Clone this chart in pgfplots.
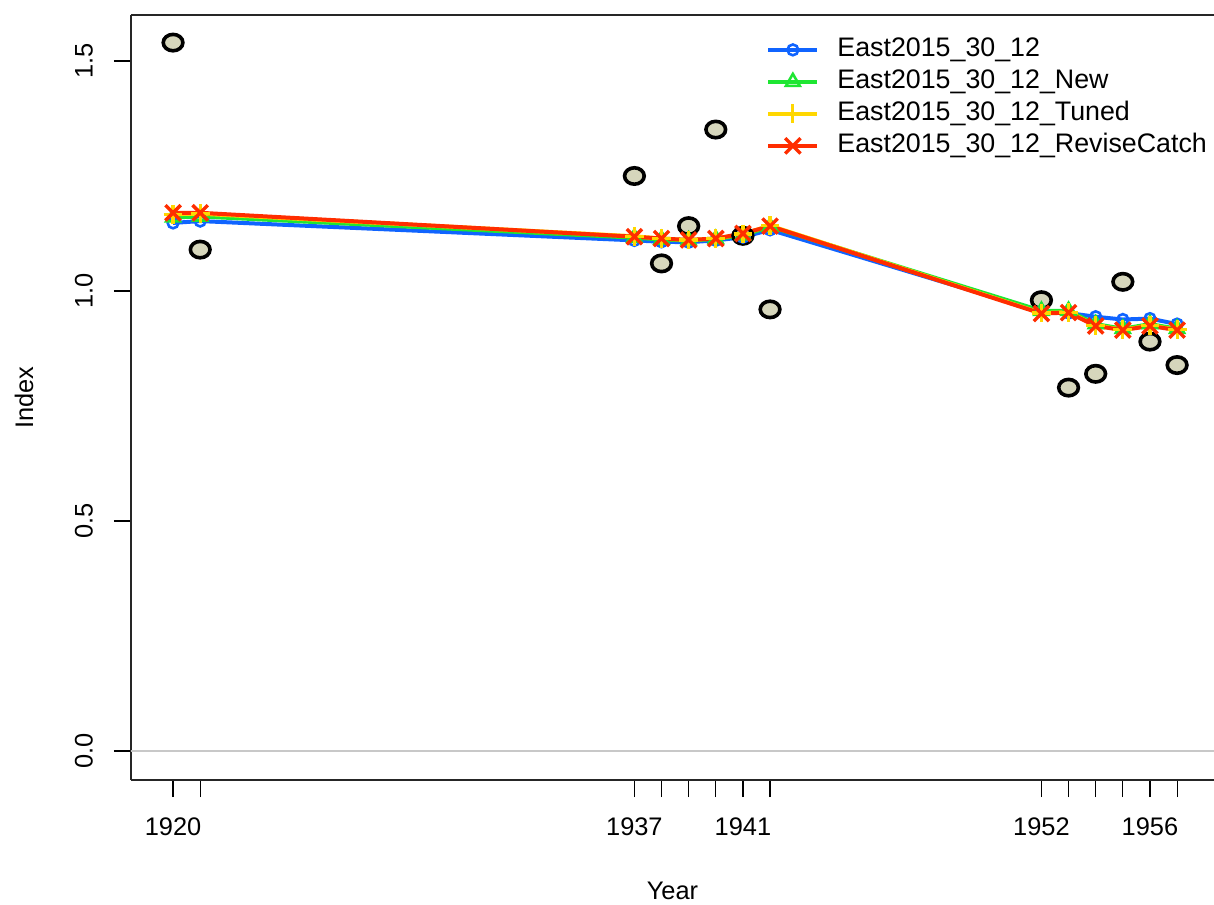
\documentclass[border=0pt]{standalone}
\usepackage{fontspec}
\setmainfont{Liberation Sans}
\usepackage{pgfplots}
\pgfplotsset{compat=1.18}
\usepackage{pgfplotstable}
\definecolor{cblue}{RGB}{16,100,255}
\definecolor{cgreen}{RGB}{30,230,50}
\definecolor{cyellow}{RGB}{255,215,0}
\definecolor{cred}{RGB}{255,45,0}
\definecolor{cobs}{RGB}{214,214,188}
\definecolor{zgray}{RGB}{200,200,200}

\pgfplotstableread{
year obs
1920 1.540
1921 1.090
1937 1.250
1938 1.060
1939 1.141
1940 1.351
1941 1.120
1942 0.960
1952 0.980
1953 0.790
1954 0.820
1955 1.020
1956 0.890
1957 0.839
}\obsdata

\pgfplotstableread{
year blue green yellow red
1920 1.148 1.160 1.167 1.170
1921 1.152 1.162 1.168 1.170
1937 1.110 1.116 1.119 1.118
1938 1.107 1.112 1.114 1.114
1939 1.106 1.110 1.111 1.111
1940 1.110 1.113 1.114 1.114
1941 1.117 1.121 1.124 1.125
1942 1.133 1.140 1.142 1.141
1952 0.955 0.957 0.952 0.951
1953 0.952 0.957 0.954 0.953
1954 0.944 0.928 0.925 0.924
1955 0.938 0.918 0.916 0.915
1956 0.940 0.928 0.925 0.924
1957 0.928 0.918 0.916 0.915
}\fitdata

\begin{document}
\begin{tikzpicture}
\begin{axis}[
  name=ax,
  scale only axis,
  width=541.5pt, height=382.5pt,
  xmin=1918.45, xmax=1958.36,
  ymin=-0.063, ymax=1.6,
  axis x line*=bottom, axis y line*=left,
  axis line style={line width=1pt, black!85},
  tick align=outside,
  major tick length=8.5pt,
  tick style={line width=0.6pt, black},
  xtick={1920,1921,1937,1938,1939,1940,1941,1942,1952,1953,1954,1955,1956,1957},
  xticklabels={1920,{},1937,{},{},{},1941,{},1952,{},{},{},1956,{}},
  ytick={0,0.5,1,1.5},
  yticklabels={0.0,0.5,1.0,1.5},
  ticklabel style={font=\fontsize{12.7}{15}\selectfont},
  xticklabel style={yshift=-7pt},
  yticklabel style={xshift=-7pt, rotate=90, anchor=south},
  every axis x label/.style={at={(rel axis cs:0.5,0)}, yshift=-55.5pt, anchor=center, font=\fontsize{12.7}{15}\selectfont},
  every axis y label/.style={at={(rel axis cs:0,0.5)}, xshift=-53.5pt, rotate=90, anchor=center, font=\fontsize{12.7}{15}\selectfont},
  xlabel={Year}, ylabel={Index},
  clip=false,
  legend cell align=left,
  legend style={draw=none, fill=none, at={(rel axis cs:0.5863,0.9715)}, anchor=north west,
    font=\fontsize{13.4}{15}\selectfont, inner sep=0pt, column sep=9pt, row sep=3.3pt,
    nodes={inner sep=0pt, text height=9.7pt, text depth=3pt}},
  legend image code/.code={\draw[mark repeat=2, mark phase=2] plot coordinates {(0pt,0pt) (12.25pt,0pt) (24.5pt,0pt)};},
]
\addplot[zgray, line width=1pt, forget plot] coordinates {(1918.45,0) (1958.36,0)};
\addplot[only marks, mark=*, mark size=4.1pt, mark options={xscale=1.2, draw=black, fill=cobs, line width=1.8pt}, forget plot] table[x=year, y=obs] {\obsdata};
\addplot[cblue, line width=2pt, mark=o, mark size=2.7pt, mark options={line width=1.3pt}] table[x=year, y=blue] {\fitdata};
\addlegendentry{East2015\_30\_12}
\addplot[cgreen, line width=2pt, mark=triangle, mark size=4pt, mark options={line width=1.3pt}] table[x=year, y=green] {\fitdata};
\addlegendentry{East2015\_30\_12\_New}
\addplot[cyellow, line width=2pt, mark=+, mark size=4.7pt, mark options={line width=1.6pt}] table[x=year, y=yellow] {\fitdata};
\addlegendentry{East2015\_30\_12\_Tuned}
\addplot[cred, line width=2pt, mark=x, mark size=5.4pt, mark options={line width=1.7pt}] table[x=year, y=red] {\fitdata};
\addlegendentry{East2015\_30\_12\_ReviseCatch}
\draw[line width=1pt, black!85] (rel axis cs:0,1) -- (rel axis cs:1,1);
\coordinate (ll) at (rel axis cs:0,0);
\coordinate (ur) at (rel axis cs:1,1);
\end{axis}
\pgfresetboundingbox
\path[use as bounding box] ([xshift=-65.5pt, yshift=-62pt]ll) rectangle ([yshift=7.5pt]ur);
\end{tikzpicture}
\end{document}
